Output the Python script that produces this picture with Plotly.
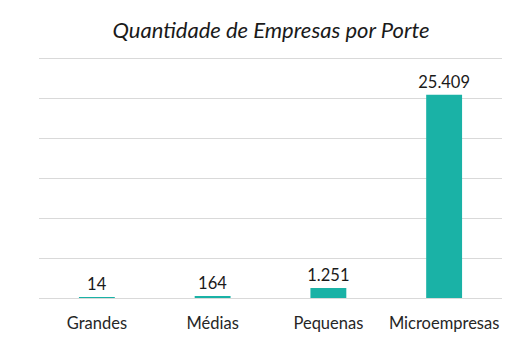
import plotly.graph_objects as go

categories = ["Grandes", "Médias", "Pequenas", "Microempresas"]
values = [14, 164, 1251, 25409]
title_text = "Quantidade de Empresas por Porte"

bar_color = "#1AB2A6"

fig = go.Figure(
    go.Bar(
        x=categories,
        y=values,
        marker=dict(color=bar_color, line=dict(width=0)),
        texttemplate="%{y:,}",
        textposition="outside",
        constraintext="none",
        cliponaxis=False,
        textfont=dict(family="Lato", size=16.5, color="#1a1a1a"),
    )
)

fig.update_layout(
    width=521,
    height=356,
    separators=",.",
    paper_bgcolor="white",
    plot_bgcolor="white",
    margin=dict(l=39, r=19, t=50, b=58),
    bargap=0.69,
    title=dict(
        text=title_text,
        font=dict(family="Lato", size=22, color="#1a1a1a", style="italic"),
        x=271 / 521,
        xanchor="center",
        xref="container",
        y=1 - 30 / 356,
        yref="container",
        yanchor="middle",
    ),
    xaxis=dict(
        showline=False,
        ticks="",
        tickfont=dict(family="Lato", size=16.5, color="#262626"),
        ticklabelstandoff=13,
    ),
    yaxis=dict(
        range=[0, 31000],
        tickvals=[0, 5000, 10000, 15000, 20000, 25000, 30000],
        showticklabels=False,
        showgrid=True,
        gridcolor="#D9D9D9",
        gridwidth=1,
        zeroline=True,
        zerolinecolor="#D9D9D9",
        zerolinewidth=1,
    ),
    showlegend=False,
)

fig.write_html(
    "out.html",
    config={"displayModeBar": False},
    post_script="document.body.style.margin='0';",
)
